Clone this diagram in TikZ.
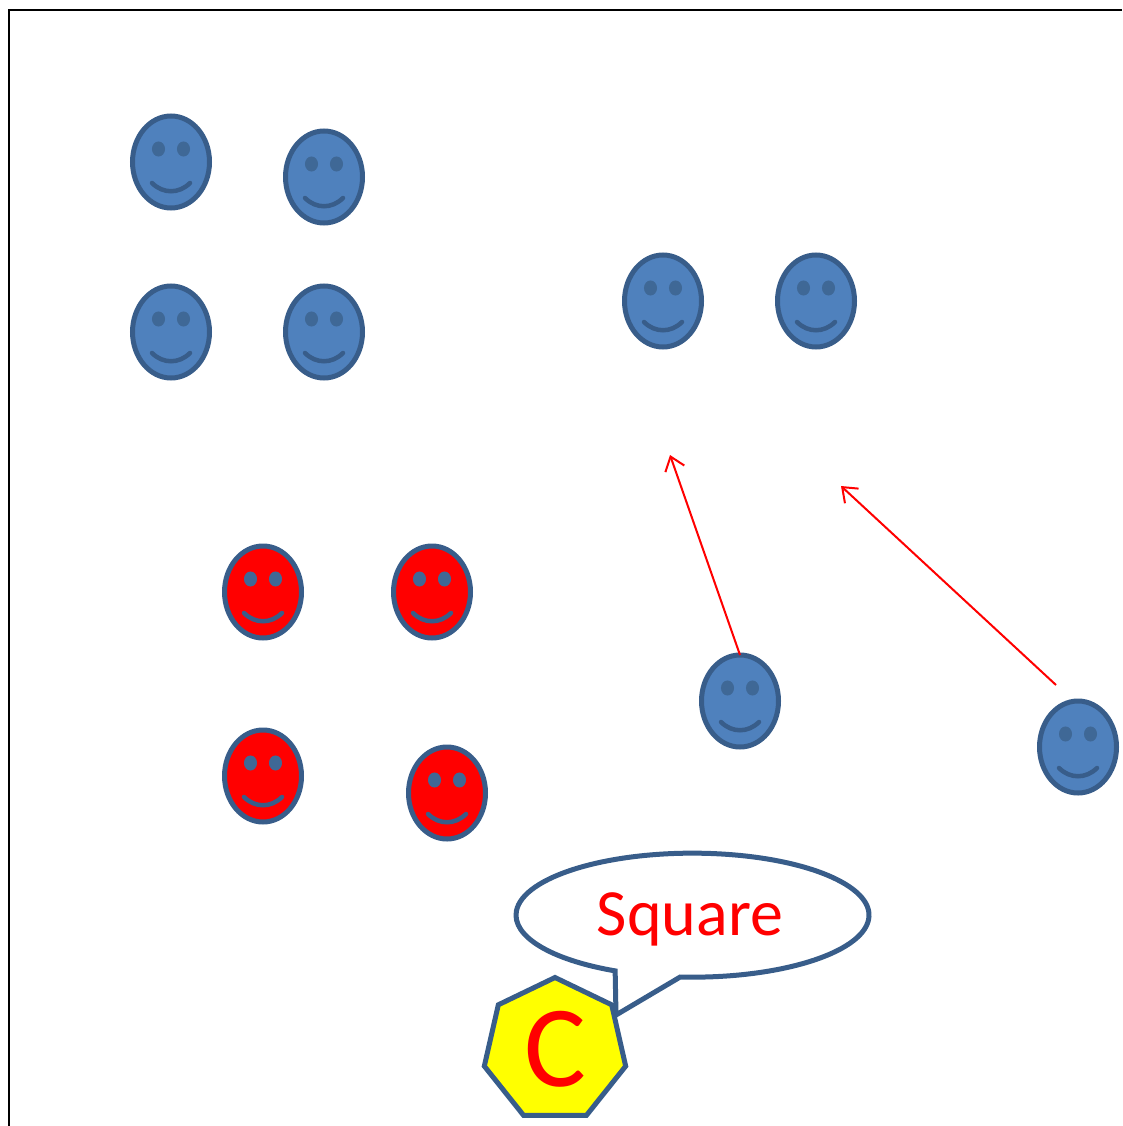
\documentclass[tikz,border=0pt]{standalone}
\usepackage{fontspec}
\setmainfont{Carlito}
\usetikzlibrary{arrows.meta,shapes.geometric}
\definecolor{faceblue}{HTML}{4F81BD}
\definecolor{edgeblue}{HTML}{385D8A}
\definecolor{eyeblue}{HTML}{3F6896}
\definecolor{speakeryellow}{RGB}{255,255,0}
\definecolor{facered}{RGB}{255,0,0}
\tikzset{
  facebody/.style={ellipse, draw=edgeblue, line width=5pt, inner sep=0pt, outer sep=0pt, minimum width=77pt, minimum height=92pt},
  faceeye/.style={ellipse, draw=eyeblue, fill=eyeblue, line width=2pt, inner sep=0pt, minimum width=11pt, minimum height=13pt},
  facemouth/.style={draw=edgeblue, line width=4.5pt, line cap=round},
  pics/smiley/.style={code={
    \node[facebody, fill=#1] (-body) at (0,0) {};
    \node[faceeye] (-eyeleft) at (-12.5,-13) {};
    \node[faceeye] (-eyeright) at (12.5,-13) {};
    \draw[facemouth] (-19,21) .. controls (-8,32) and (8,32) .. (19,21);
  }},
  moveline/.style={draw=facered, line width=2pt, -{Straight Barb[length=13pt,width=20pt,line width=2pt]}},
  bubble/.style={draw=edgeblue, fill=white, line width=5pt, line join=miter},
  speaker/.style={regular polygon, regular polygon sides=7, draw=edgeblue, fill=speakeryellow, line width=5pt, inner sep=0pt, outer sep=0pt, minimum size=145pt}
}
\begin{document}
\begin{tikzpicture}[x=1pt,y=-1pt]
  \useasboundingbox (0,0) rectangle (1122,1126);
  \coordinate (frametop) at (1122,10);
  \coordinate (framecorner) at (9,10);
  \coordinate (framebottom) at (9,1126);
  \draw[black, line width=1.5pt] (framebottom) -- (framecorner) -- (frametop);
  % group top left
  \pic (b1) at (171,162) {smiley=faceblue};
  \pic (b2) at (324,177) {smiley=faceblue};
  \pic (b3) at (171,332) {smiley=faceblue};
  \pic (b4) at (324,332) {smiley=faceblue};
  % group top right
  \pic (b5) at (663,301) {smiley=faceblue};
  \pic (b6) at (816,301) {smiley=faceblue};
  % the two that move
  \pic (b7) at (740,701) {smiley=faceblue};
  \pic (b8) at (1078,747) {smiley=faceblue};
  % red group
  \pic (r1) at (263,592) {smiley=facered};
  \pic (r2) at (432,592) {smiley=facered};
  \pic (r3) at (263,776) {smiley=facered};
  \pic (r4) at (447,793) {smiley=facered};
  \coordinate (aimone) at (670,455);
  \coordinate (aimtwo) at (841,486);
  \coordinate (starttwo) at (1056,685);
  \draw[moveline] (b7-body.north) -- (aimone);
  \draw[moveline] (starttwo) -- (aimtwo);
  % speech bubble
  \coordinate (bubbletip) at (616,1015);
  \draw[bubble] (bubbletip) -- (680.2,977) arc[start angle=266, end angle=604, x radius=176.5pt, y radius=62pt] -- cycle;
  \node[text=facered, font=\fontsize{66}{66}\selectfont, inner sep=0pt] (square) at (690,919) {Square};
  \node[speaker] (seven) at (555,1050) {};
  \node[text=facered, font=\fontsize{116}{116}\selectfont, inner sep=0pt] (letter) at (555,1049) {C};
\end{tikzpicture}
\end{document}
